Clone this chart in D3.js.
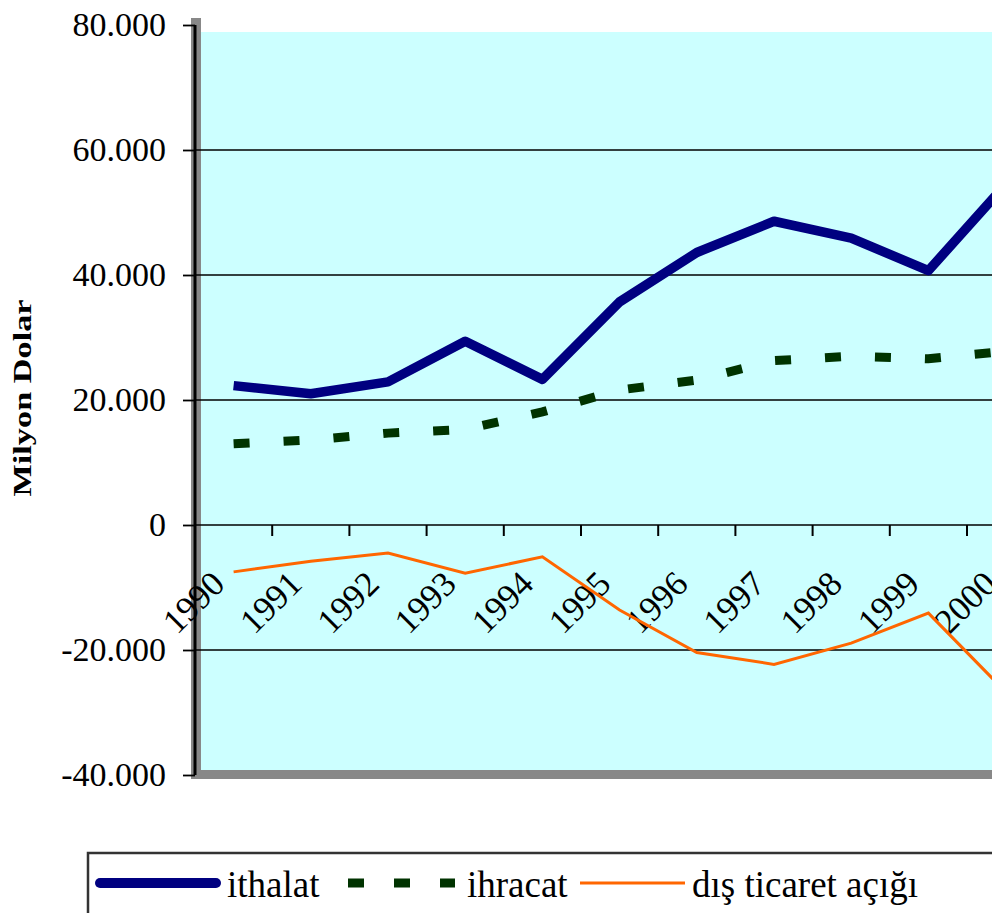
<!DOCTYPE html>
<html>
<head>
<meta charset="utf-8">
<script src="https://cdn.jsdelivr.net/npm/d3@7"></script>
<style>
  body { margin: 0; background: #fff; }
  svg { display: block; }
  svg text { font-family: 'Liberation Serif', 'DejaVu Serif', serif; }
</style>
</head>
<body>
<svg id="chart"></svg>
<script>
// values (million USD)
const years = ['1990', '1991', '1992', '1993', '1994', '1995', '1996', '1997', '1998', '1999', '2000'];
const ithalat = [22300, 21000, 22900, 29400, 23300, 35700, 43600, 48600, 45900, 40700, 54500];
const ihracat = [13000, 13600, 14700, 15300, 18100, 21600, 23200, 26300, 27000, 26600, 27800];
const acik = [-7500, -5800, -4500, -7700, -5100, -13600, -20400, -22300, -18900, -14100, -26700];
const yTicks = [-40000, -20000, 0, 20000, 40000, 60000, 80000];
const legendLabels = ['ithalat', 'ihracat', 'dış ticaret açığı'];

const serif = "'Liberation Serif', 'DejaVu Serif', serif";
const width = 992;
const height = 913;
const left = 195;
const step = 77.2;

const svg = d3.select('#chart')
  .attr('width', width)
  .attr('height', height)
  .attr('font-family', serif);

const x = d3.scaleBand()
  .domain(years)
  .range([left, left + step * years.length]);

const y = d3.scaleLinear()
  .domain([-40000, 80000])
  .range([775, 25]);

const right = x.range()[1];

// wall shadow + plot background
svg.append('rect')
  .attr('x', 191).attr('y', 18)
  .attr('width', 10).attr('height', 761)
  .attr('fill', '#888');
svg.append('rect')
  .attr('x', 191).attr('y', 770)
  .attr('width', right - 191).attr('height', 9)
  .attr('fill', '#888');
svg.append('rect')
  .attr('x', 201).attr('y', 32)
  .attr('width', right - 201).attr('height', 738)
  .attr('fill', '#ccffff');

// grid lines
svg.append('g')
  .selectAll('line')
  .data(yTicks.filter(d => d > -40000 && d < 80000))
  .join('line')
  .attr('x1', left).attr('x2', right)
  .attr('y1', d => y(d)).attr('y2', d => y(d))
  .attr('stroke', '#000')
  .attr('stroke-width', 1.6);

// y axis
const fmt = d => (d < 0 ? '-' : '') + d3.format(',')(Math.abs(d)).replace(/,/g, '.');
const yAxis = svg.append('g')
  .attr('transform', `translate(${left},0)`)
  .call(d3.axisLeft(y).tickValues(yTicks).tickSize(12).tickPadding(17).tickFormat(fmt));
yAxis.attr('font-family', serif);
yAxis.select('.domain').remove();
yAxis.selectAll('.tick line').attr('stroke', '#000').attr('stroke-width', 1.8);
yAxis.selectAll('.tick text')
  .style('font-family', serif)
  .attr('font-size', '34px')
  .attr('fill', '#000');

svg.append('line')
  .attr('x1', left).attr('x2', left)
  .attr('y1', y(80000)).attr('y2', y(-40000))
  .attr('stroke', '#000')
  .attr('stroke-width', 3);

// category ticks on the zero line
svg.append('g')
  .selectAll('line')
  .data(years.slice(1))
  .join('line')
  .attr('x1', d => x(d)).attr('x2', d => x(d))
  .attr('y1', y(0)).attr('y2', y(0) + 11)
  .attr('stroke', '#000')
  .attr('stroke-width', 2);

// category labels
svg.append('g')
  .selectAll('text')
  .data(years)
  .join('text')
  .attr('transform', d => `translate(${x(d) + x.bandwidth() / 2 - 7},586) rotate(-45)`)
  .attr('text-anchor', 'end')
  .attr('font-size', '35px')
  .attr('fill', '#000')
  .text(d => d);

// y title
svg.append('text')
  .attr('transform', 'translate(31,398) rotate(-90)')
  .attr('text-anchor', 'middle')
  .attr('font-size', '26px')
  .attr('font-weight', 'bold')
  .attr('textLength', 197)
  .attr('lengthAdjust', 'spacingAndGlyphs')
  .text('Milyon Dolar');

// series
const line = d3.line()
  .x((d, i) => x(years[i]) + x.bandwidth() / 2)
  .y(d => y(d));

svg.append('path')
  .datum(acik)
  .attr('d', line)
  .attr('fill', 'none')
  .attr('stroke', '#ff6600')
  .attr('stroke-width', 3);

svg.append('path')
  .datum(ihracat)
  .attr('d', line)
  .attr('fill', 'none')
  .attr('stroke', '#003300')
  .attr('stroke-width', 9)
  .attr('stroke-dasharray', '16,34');

svg.append('path')
  .datum(ithalat)
  .attr('d', line)
  .attr('fill', 'none')
  .attr('stroke', '#000080')
  .attr('stroke-width', 9.5)
  .attr('stroke-linejoin', 'round');

// legend
const lg = svg.append('g');
lg.append('rect')
  .attr('x', 88).attr('y', 853)
  .attr('width', 1000).attr('height', 200)
  .attr('fill', '#fff')
  .attr('stroke', '#333')
  .attr('stroke-width', 2.5);

lg.append('line')
  .attr('x1', 100).attr('x2', 216)
  .attr('y1', 883).attr('y2', 883)
  .attr('stroke', '#000080')
  .attr('stroke-width', 10)
  .attr('stroke-linecap', 'round');
lg.append('line')
  .attr('x1', 348).attr('x2', 455)
  .attr('y1', 883).attr('y2', 883)
  .attr('stroke', '#003300')
  .attr('stroke-width', 9)
  .attr('stroke-dasharray', '16,30');
lg.append('line')
  .attr('x1', 580).attr('x2', 685)
  .attr('y1', 883).attr('y2', 883)
  .attr('stroke', '#ff6600')
  .attr('stroke-width', 3);

lg.selectAll('text')
  .data(legendLabels)
  .join('text')
  .attr('x', (d, i) => [227, 467, 692][i])
  .attr('y', 897)
  .attr('font-size', '37px')
  .attr('fill', '#000')
  .text(d => d);
</script>
</body>
</html>
